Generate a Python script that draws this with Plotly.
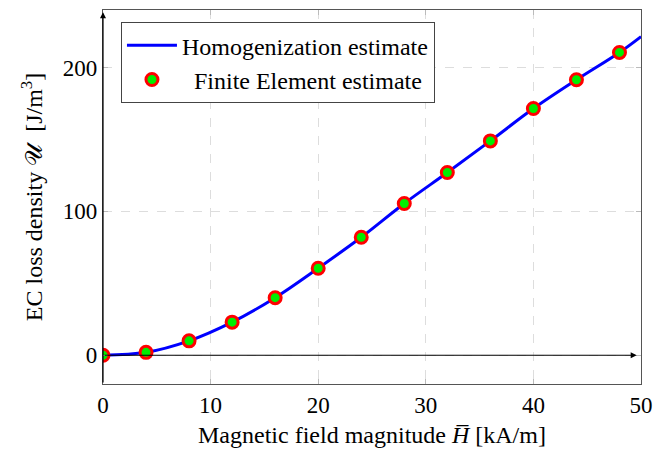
import plotly.graph_objects as go

fe_h = [0, 4, 8, 12, 16, 20, 24, 28, 32, 36, 40, 44, 48]
fe_u = [0, 2, 10, 23, 40, 60.5, 82, 105.5, 127, 149, 171.5, 191.5, 210.5]
hom_h = [0, 4, 8, 12, 16, 20, 24, 28, 32, 36, 40, 44, 48, 50]
hom_u = [0, 2, 10, 23, 40, 60.5, 82, 105.5, 127, 149, 171.5, 191.5, 210.5, 221.5]

x_ticks = [0, 10, 20, 30, 40, 50]
y_ticks = [0, 100, 200]

font = "Liberation Serif, Times New Roman, serif"

fig = go.Figure()
fig.add_trace(go.Scatter(x=hom_h, y=hom_u, mode="lines", name="Homogenization estimate",
                         line=dict(color="#0000ff", width=3, shape="spline")))
fig.add_trace(go.Scatter(x=fe_h, y=fe_u, mode="markers", name="\u00a0\u00a0Finite Element estimate",
                         marker=dict(color="#00ee00", size=12, line=dict(color="#ff0000", width=3))))

# axis arrows
fig.add_annotation(x=49.6, y=0, ax=0, ay=0, xref="x", yref="y", axref="x", ayref="y",
                   showarrow=True, arrowhead=2, arrowsize=1, arrowwidth=1.2, arrowcolor="black", text="")
fig.add_annotation(x=0, y=238.5, ax=0, ay=-20, xref="x", yref="y", axref="x", ayref="y",
                   showarrow=True, arrowhead=2, arrowsize=1, arrowwidth=1.2, arrowcolor="black", text="")

fig.update_layout(
    width=656, height=445,
    margin=dict(l=95, r=23, t=2, b=69),
    plot_bgcolor="white", paper_bgcolor="white",
    font=dict(family=font, size=20, color="black"),
    showlegend=True,
    legend=dict(x=0.033, y=0.968, xanchor="left", yanchor="top",
                bgcolor="white", bordercolor="#444", borderwidth=1.2,
                font=dict(size=24), tracegroupgap=0, itemwidth=50),
    xaxis=dict(range=[0, 50], tickvals=x_ticks, showgrid=True, gridcolor="#dddddd",
               griddash="dash", gridwidth=1, zeroline=False,
               showline=True, mirror="allticks", linecolor="#555", linewidth=1.2,
               ticks="inside", ticklen=5, tickcolor="#bbbbbb", tickfont=dict(size=23),
               title=dict(text="Magnetic field magnitude <i>H̅</i> [kA/m]", standoff=9)),
    yaxis=dict(range=[-20, 240], tickvals=y_ticks, showgrid=True, gridcolor="#dddddd",
               griddash="dash", gridwidth=1, zeroline=False,
               showline=True, mirror="allticks", linecolor="#555", linewidth=1.2,
               ticks="inside", ticklen=5, tickcolor="#bbbbbb", tickfont=dict(size=23),
               title=dict(text="EC loss density 𝒰  [J/m<sup>3</sup>]", standoff=13)),
)

fig.write_html("out.html")
